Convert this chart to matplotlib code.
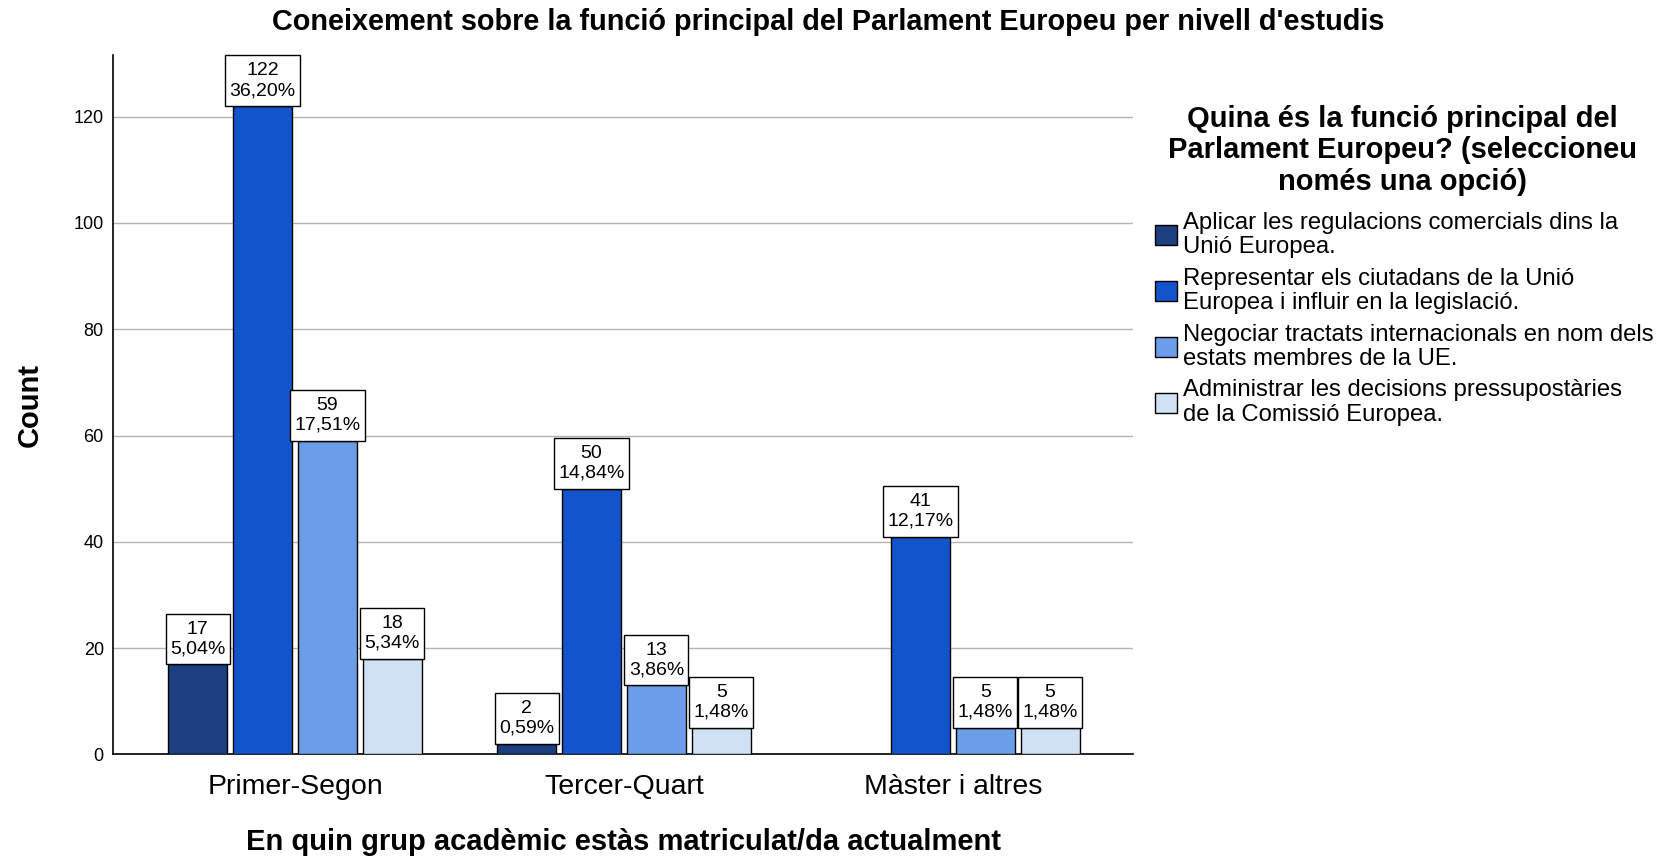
import numpy as np
import matplotlib
matplotlib.use("Agg")
import matplotlib.pyplot as plt
from matplotlib.patches import Patch
from matplotlib.path import Path

plt.rcParams['font.family'] = ['Liberation Sans', 'DejaVu Sans']

# dades del gràfic
grups = ['Primer-Segon', 'Tercer-Quart', 'Màster i altres']
opcions = [
    'Aplicar les regulacions comercials dins la\nUnió Europea.',
    'Representar els ciutadans de la Unió\nEuropea i influir en la legislació.',
    'Negociar tractats internacionals en nom dels\nestats membres de la UE.',
    'Administrar les decisions pressupostàries\nde la Comissió Europea.',
]
aplicar = [17, 2, 0]
representar = [122, 50, 41]
negociar = [59, 13, 5]
administrar = [18, 5, 5]
series = [aplicar, representar, negociar, administrar]
colors = ['#1B3F80', '#1254CC', '#6C9DE8', '#CFE1F2']

total = sum(sum(s) for s in series)

PADX, PADY = 0.22, 0.36


def caixa(x0, y0, width, height, mutation_size):
    # requadre amb més marge vertical que horitzontal
    px, py = PADX * mutation_size, PADY * mutation_size
    x0, y0 = x0 - px, y0 - py
    x1, y1 = x0 + width + 2 * px, y0 + height + 2 * py
    return Path([(x0, y0), (x1, y0), (x1, y1), (x0, y1), (x0, y0)],
                closed=True)


fig = plt.figure(figsize=(16.64, 8.56), dpi=100)
ax = fig.add_axes([0.0682, 0.1186, 0.6128, 0.8171])

x = np.arange(len(grups))
step = 0.197
width = 0.18
fs_lab = 14

for i, (vals, col) in enumerate(zip(series, colors)):
    vals = np.array(vals)
    pos = x + (i - 1.5) * step
    mask = vals > 0
    ax.bar(pos[mask], vals[mask], width=width, color=col, edgecolor='black',
           linewidth=1.0, zorder=3)
    for px, v in zip(pos[mask], vals[mask]):
        pct = f"{v / total * 100:.2f}".replace('.', ',')
        ax.annotate(f"{v}\n{pct}%", xy=(px, v), xytext=(0, fs_lab * PADY),
                    textcoords='offset points', ha='center', va='bottom',
                    fontsize=fs_lab, linespacing=1.2, zorder=5,
                    bbox=dict(boxstyle=caixa, fc='white', ec='black', lw=1.0))

ax.set_xlim(-0.552, 2.548)
ax.set_ylim(0, 131.6)
ax.set_yticks(np.arange(0, 121, 20))
ax.set_xticks(x)
ax.set_xticklabels(grups, fontsize=20.5)
ax.tick_params(axis='y', length=0, pad=7, labelsize=13)
ax.tick_params(axis='x', length=0, pad=14)
ax.yaxis.grid(True, color='#b4b4b4', linewidth=1.0)
ax.set_axisbelow(True)
for s in ['top', 'right']:
    ax.spines[s].set_visible(False)
for s in ['left', 'bottom']:
    ax.spines[s].set_linewidth(1.2)
    ax.spines[s].set_color('black')

ax.set_ylabel('Count', fontsize=21, fontweight='bold')
ax.yaxis.set_label_coords(-0.068, 0.5)
ax.set_xlabel("En quin grup acadèmic estàs matriculat/da actualment",
              fontsize=21, fontweight='bold', va='center')
ax.xaxis.set_label_coords(0.5, -0.1255)

fig.text(0.4976, 0.9738,
         "Coneixement sobre la funció principal del Parlament Europeu per nivell d'estudis",
         ha='center', va='center', fontsize=20.8, fontweight='bold')

# llegenda
fig.text(1402 / 1664, 1 - 105 / 856,
         "Quina és la funció principal del\nParlament Europeu? (seleccioneu\nnomés una opció)",
         ha='center', va='top', fontsize=21, fontweight='bold',
         multialignment='center', linespacing=1.15)
handles = [Patch(facecolor=c, edgecolor='black', linewidth=1.0) for c in colors]
leg = fig.legend(handles, opcions, loc='upper left',
                 bbox_to_anchor=(1155 / 1664, 1 - 212 / 856),
                 frameon=False, fontsize=17.2, borderpad=0, borderaxespad=0,
                 handlelength=0.92, handleheight=0.92, handletextpad=0.25,
                 labelspacing=0.4)
for t in leg.get_texts():
    t.set_linespacing(1.13)

fig.savefig('out.png', dpi=100)
